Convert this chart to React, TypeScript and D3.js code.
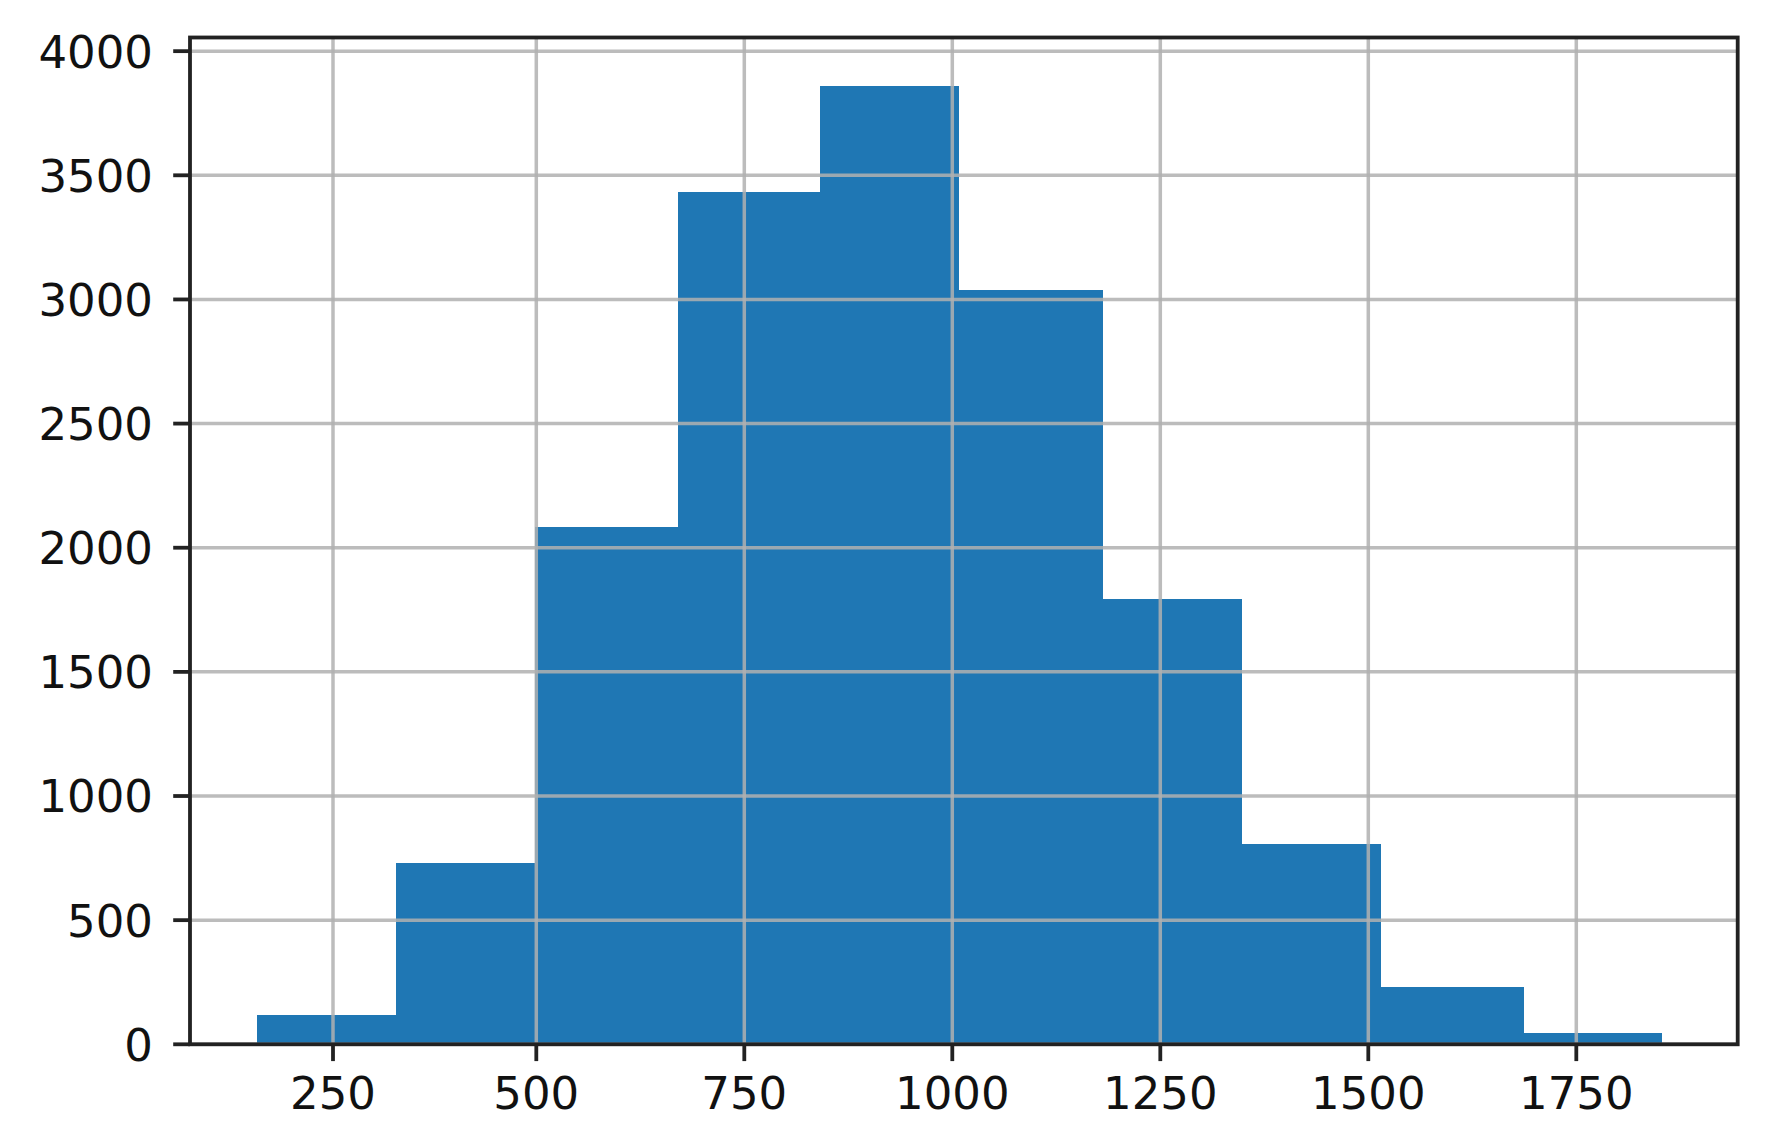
import React, { useEffect, useRef } from "react";
import * as d3 from "d3";

// histogram (bin edges + counts)
const binEdges = [160, 327, 498, 670, 841, 1008, 1180, 1347, 1515, 1686, 1853];
const counts = [120, 732, 2083, 3431, 3859, 3040, 1794, 808, 231, 45];

const xTicks = [250, 500, 750, 1000, 1250, 1500, 1750];
const yTicks = [0, 500, 1000, 1500, 2000, 2500, 3000, 3500, 4000];

const App = () => {
  const svgRef = useRef<SVGSVGElement>(null);

  useEffect(() => {
    const width = 1767,
      height = 1142;
    const left = 190,
      right = 1737.7,
      top = 37.5,
      bottom = 1044.3;
    const lw = 3.8;
    const tickLen = 16.8;
    const font = "'DejaVu Sans', sans-serif";

    const svg = d3.select(svgRef.current);
    svg.selectAll("*").remove();
    svg.attr("width", width).attr("height", height);

    svg
      .append("rect")
      .attr("width", width)
      .attr("height", height)
      .attr("fill", "white");

    // the reference axis is slightly uneven at the low end, so a polylinear scale
    const x = d3
      .scaleLinear()
      .domain([80, 250, 500, 1750, 1944])
      .range([left, 333, 536.3, 1576.3, right]);
    const y = d3.scaleLinear().domain([0, 4055]).range([bottom, top]);

    const bins = counts.map((c, i) => ({
      x0: binEdges[i],
      x1: binEdges[i + 1],
      count: c,
    }));

    // bars
    svg
      .append("g")
      .attr("shape-rendering", "crispEdges")
      .selectAll("rect")
      .data(bins)
      .enter()
      .append("rect")
      .attr("x", (d) => x(d.x0))
      .attr("y", (d) => y(d.count))
      .attr("width", (d) => x(d.x1) - x(d.x0) + 0.5)
      .attr("height", (d) => y(0) - y(d.count))
      .attr("fill", "#1f77b4");

    // grid lines (drawn above the bars, like matplotlib)
    const grid = svg
      .append("g")
      .attr("stroke", "#b0b0b0")
      .attr("stroke-width", 3.5)
      .attr("stroke-opacity", 0.85);
    grid
      .selectAll("line.vx")
      .data(xTicks)
      .enter()
      .append("line")
      .attr("x1", (d) => x(d))
      .attr("x2", (d) => x(d))
      .attr("y1", top)
      .attr("y2", bottom);
    grid
      .selectAll("line.hy")
      .data(yTicks)
      .enter()
      .append("line")
      .attr("x1", left)
      .attr("x2", right)
      .attr("y1", (d) => y(d))
      .attr("y2", (d) => y(d));

    // spines
    svg
      .append("rect")
      .attr("x", left)
      .attr("y", top)
      .attr("width", right - left)
      .attr("height", bottom - top)
      .attr("fill", "none")
      .attr("stroke", "#222")
      .attr("stroke-width", lw);

    // x axis ticks + labels
    const xg = svg.append("g");
    xg.selectAll("line")
      .data(xTicks)
      .enter()
      .append("line")
      .attr("x1", (d) => x(d))
      .attr("x2", (d) => x(d))
      .attr("y1", bottom)
      .attr("y2", bottom + tickLen)
      .attr("stroke", "#222")
      .attr("stroke-width", lw);
    xg.selectAll("text")
      .data(xTicks)
      .enter()
      .append("text")
      .attr("x", (d) => x(d))
      .attr("y", 1109)
      .attr("text-anchor", "middle")
      .attr("font-family", font)
      .attr("font-size", 45)
      .attr("fill", "#111")
      .text((d) => d);

    // y axis ticks + labels
    const yg = svg.append("g");
    yg.selectAll("line")
      .data(yTicks)
      .enter()
      .append("line")
      .attr("x1", left - tickLen)
      .attr("x2", left)
      .attr("y1", (d) => y(d))
      .attr("y2", (d) => y(d))
      .attr("stroke", "#222")
      .attr("stroke-width", lw);
    yg.selectAll("text")
      .data(yTicks)
      .enter()
      .append("text")
      .attr("x", 153)
      .attr("y", (d) => y(d) + 16.4)
      .attr("text-anchor", "end")
      .attr("font-family", font)
      .attr("font-size", 45)
      .attr("fill", "#111")
      .text((d) => d);
  }, []);

  return (
    <svg
      ref={svgRef}
      style={{ position: "absolute", left: 0, top: 0, display: "block" }}
    ></svg>
  );
};

export default App;
